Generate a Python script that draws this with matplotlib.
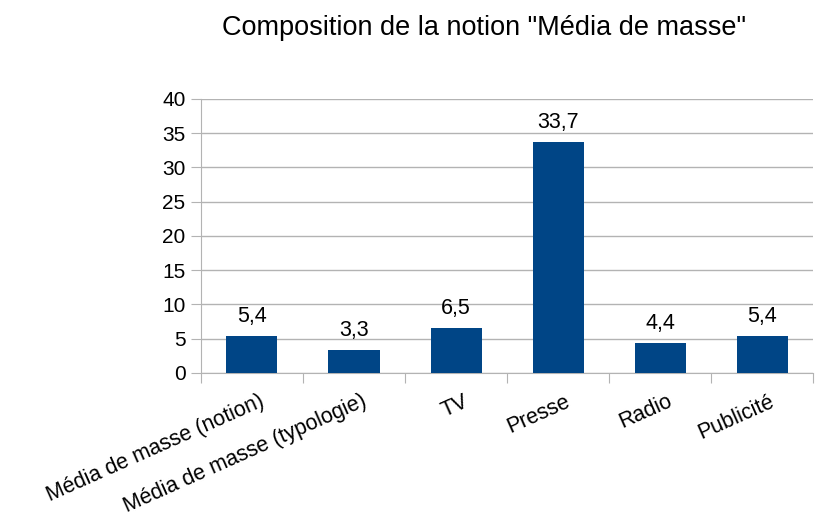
import matplotlib.pyplot as plt
import numpy as np

plt.rcParams['font.family'] = ['Liberation Sans', 'DejaVu Sans']

categories = ['Média de masse (notion)', 'Média de masse (typologie)', 'TV',
              'Presse', 'Radio', 'Publicité']
values = [5.4, 3.3, 6.5, 33.7, 4.4, 5.4]
yticks = [0, 5, 10, 15, 20, 25, 30, 35, 40]

fig = plt.figure(figsize=(8.3, 5.2), dpi=100)
ax = fig.add_axes([0.242, 0.283, 0.738, 0.527])

x = np.arange(len(categories))
bars = ax.bar(x, values, width=0.5, color='#004586', zorder=3)

for xi, v in zip(x, values):
    ax.annotate(f'{v:.1f}'.replace('.', ','), xy=(xi, v), xytext=(0, 10),
                textcoords='offset points', ha='center', va='baseline',
                fontsize=15.5)

ax.set_xlim(-0.5, len(categories) - 0.5)
ax.set_ylim(0, 40)
ax.set_yticks(yticks)
ax.set_yticklabels([str(t) for t in yticks], fontsize=15)
ax.yaxis.grid(True, color='#b3b3b3', linewidth=1, zorder=0)

# ticks between categories, labels at centres
ax.set_xticks(np.arange(len(categories) + 1) - 0.5)
ax.set_xticklabels([])
ax.tick_params(axis='x', length=7, color='#b3b3b3')
ax.tick_params(axis='y', length=7, color='#b3b3b3', pad=4)
for xi, lab in zip(x, categories):
    ax.annotate(lab, xy=(xi, 0), xycoords=('data', 'axes fraction'),
                xytext=(5, -13), textcoords='offset points',
                ha='right', va='top', rotation=24, rotation_mode='anchor',
                fontsize=15.5)

for s in ['top', 'right']:
    ax.spines[s].set_visible(False)
for s in ['left', 'bottom']:
    ax.spines[s].set_color('#b3b3b3')

fig.text(0.583, 0.946, 'Composition de la notion "Média de masse"',
         ha='center', va='center', fontsize=19.5)

fig.savefig('out.png', dpi=100)
